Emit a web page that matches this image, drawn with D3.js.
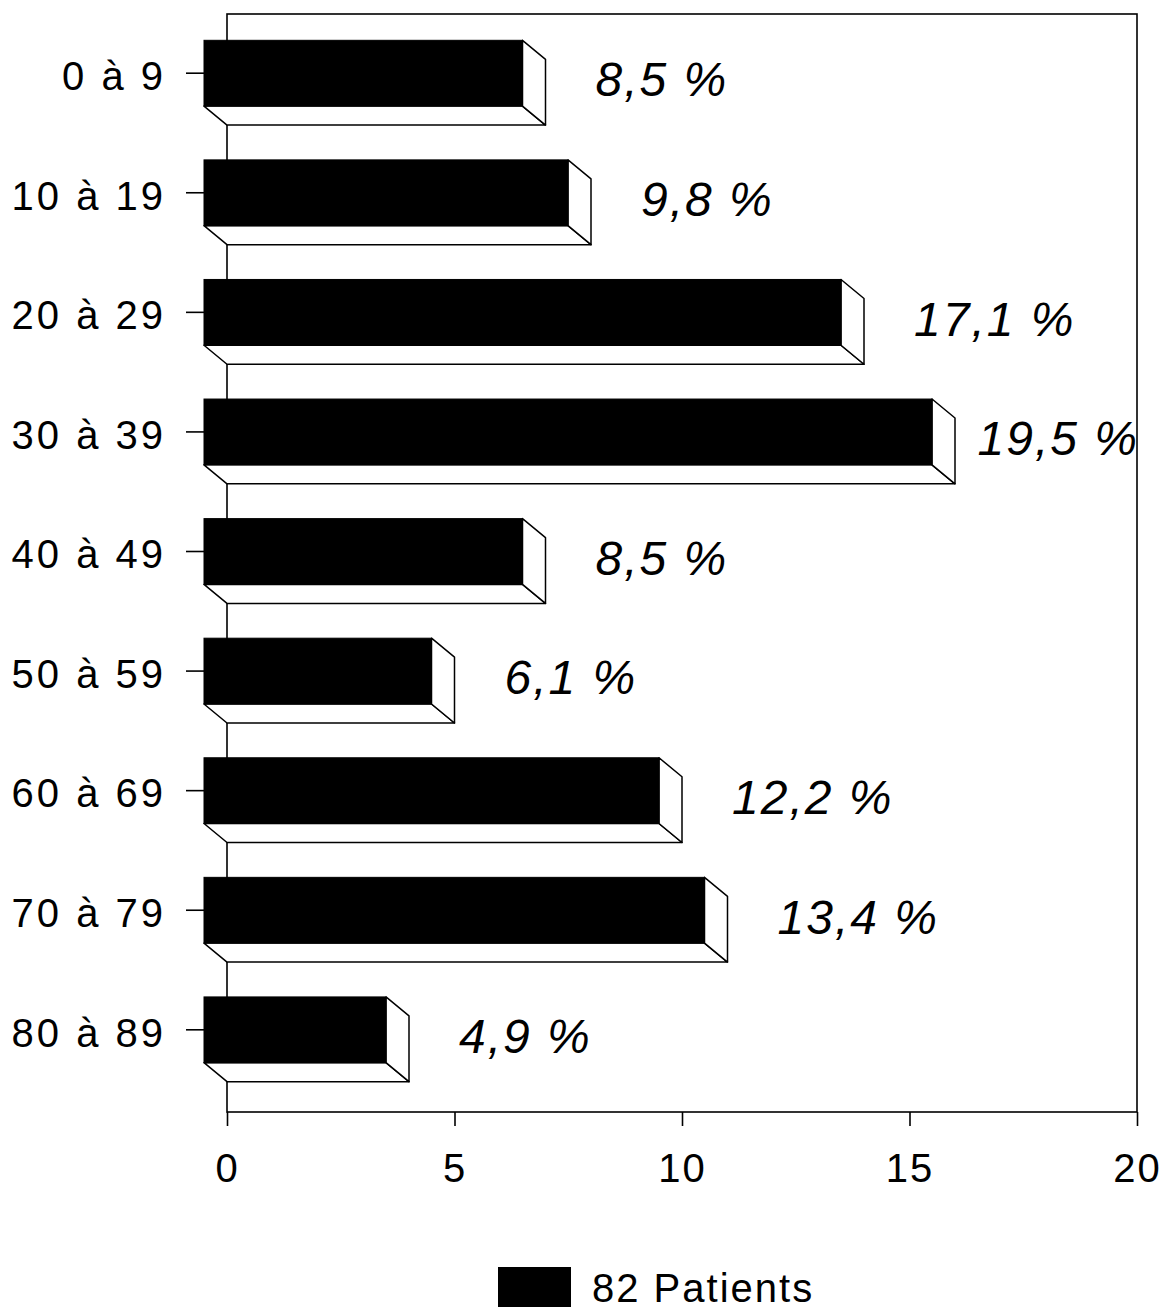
<!DOCTYPE html>
<html lang="fr">
<head>
<meta charset="utf-8">
<title>Répartition par âge — 82 patients</title>
<script src="https://cdn.jsdelivr.net/npm/d3@7"></script>
<style>
  html, body { margin: 0; padding: 0; background: #fff; }
  svg { display: block; }
  text { font-family: "Liberation Sans", Arial, Helvetica, sans-serif; fill: #000; }
</style>
</head>
<body>
<svg id="chart" width="1174" height="1313"></svg>
<script>
// Age groups (years) and number of patients in each group
const ageGroups = ["0 à 9", "10 à 19", "20 à 29", "30 à 39", "40 à 49",
                   "50 à 59", "60 à 69", "70 à 79", "80 à 89"];
const patientCounts = [7, 8, 14, 16, 7, 5, 10, 11, 4];
const xTickValues = [0, 5, 10, 15, 20];
const xDomain = [0, 20];
const legendSuffix = "Patients";

const totalPatients = d3.sum(patientCounts);
const pctFormat = v => d3.format(".1f")(v).replace(".", ",") + " %";

const W = 1174, H = 1313;
const frame = { left: 227, right: 1137, top: 14, bottom: 1112 };
const depth = { dx: 23, dy: 19 };   // oblique offset of the back face

const svg = d3.select("#chart");

const x = d3.scaleLinear().domain(xDomain).range([frame.left, frame.right]);

// band scale on the back plane (aligned with the axis frame)
const yBack = d3.scaleBand()
  .domain(ageGroups)
  .range([frame.top + depth.dy, frame.bottom - 4])
  .paddingInner(0.45)
  .paddingOuter(0.22);
// same bands projected onto the front plane
const yFront = yBack.copy().range(yBack.range().map(v => v - depth.dy));

// frame around the plotting area
svg.append("rect")
  .attr("x", frame.left).attr("y", frame.top)
  .attr("width", frame.right - frame.left)
  .attr("height", frame.bottom - frame.top)
  .attr("fill", "none").attr("stroke", "#000").attr("stroke-width", 1.6);

// bottom value axis
const xAxis = svg.append("g")
  .attr("transform", `translate(0,${frame.bottom})`)
  .call(d3.axisBottom(x).tickValues(xTickValues).tickSize(14).tickPadding(28).tickSizeOuter(0));
xAxis.select(".domain").remove();
xAxis.selectAll(".tick line").attr("stroke", "#000").attr("stroke-width", 1.6);
xAxis.selectAll(".tick text")
  .style("font-family", '"Liberation Sans", Arial, sans-serif')
  .style("font-size", "40px")
  .style("letter-spacing", "2px")
  .attr("fill", "#000");

// category axis, sitting on the front plane
const yAxis = svg.append("g")
  .attr("transform", `translate(${x(0) - depth.dx},0)`)
  .call(d3.axisLeft(yFront).tickSize(18).tickPadding(20));
yAxis.select(".domain").remove();
yAxis.selectAll(".tick line").attr("stroke", "#000").attr("stroke-width", 1.6);
yAxis.selectAll(".tick text")
  .attr("dy", "0.42em")
  .style("font-family", '"Liberation Sans", Arial, sans-serif')
  .style("font-size", "40px")
  .style("letter-spacing", "3px")
  .attr("fill", "#000");

// 3-D bars: front face (black), right side and underside (white)
const rows = ageGroups.map((g, i) => ({ group: g, value: patientCounts[i] }));
const bars = svg.append("g").selectAll("g.bar").data(rows).join("g").attr("class", "bar");

bars.each(function(d) {
  const g = d3.select(this);
  const bx0 = x(0), bx1 = x(d.value);
  const by0 = yBack(d.group), by1 = by0 + yBack.bandwidth();
  const fx0 = bx0 - depth.dx, fx1 = bx1 - depth.dx;
  const fy0 = by0 - depth.dy, fy1 = by1 - depth.dy;
  const line = d3.line();

  // underside
  g.append("path")
    .attr("d", line([[fx0, fy1], [fx1, fy1], [bx1, by1], [bx0, by1]]) + "Z")
    .attr("fill", "#fff").attr("stroke", "#000").attr("stroke-width", 1.5)
    .attr("stroke-linejoin", "round");
  // right side
  g.append("path")
    .attr("d", line([[fx1, fy0], [bx1, by0], [bx1, by1], [fx1, fy1]]) + "Z")
    .attr("fill", "#fff").attr("stroke", "#000").attr("stroke-width", 1.5)
    .attr("stroke-linejoin", "round");
  // front
  g.append("rect")
    .attr("x", fx0).attr("y", fy0)
    .attr("width", fx1 - fx0).attr("height", fy1 - fy0)
    .attr("fill", "#000").attr("stroke", "#000").attr("stroke-width", 1);
});

// percentage labels next to each bar
const labelGap = 50;
const labels = svg.append("g").selectAll("text.pct").data(rows).join("text")
  .attr("class", "pct")
  .style("font-size", "48px")
  .style("font-style", "italic")
  .style("letter-spacing", "2px")
  .attr("y", d => yFront(d.group) + yFront.bandwidth() / 2 + 6)
  .attr("dy", "0.36em")
  .text(d => pctFormat(d.value / totalPatients * 100));

labels.attr("x", function(d) {
  const w = this.getComputedTextLength();
  return Math.min(x(d.value) + labelGap, frame.right - w + 2);
});

// legend
const legend = svg.append("g").attr("transform", `translate(498,${H - 46})`);
legend.append("rect")
  .attr("x", 0).attr("y", 0).attr("width", 73).attr("height", 40)
  .attr("fill", "#000");
legend.append("text")
  .attr("x", 94).attr("y", 35)
  .style("font-size", "40px")
  .style("letter-spacing", "2px")
  .text(`${totalPatients} ${legendSuffix}`);
</script>
</body>
</html>
